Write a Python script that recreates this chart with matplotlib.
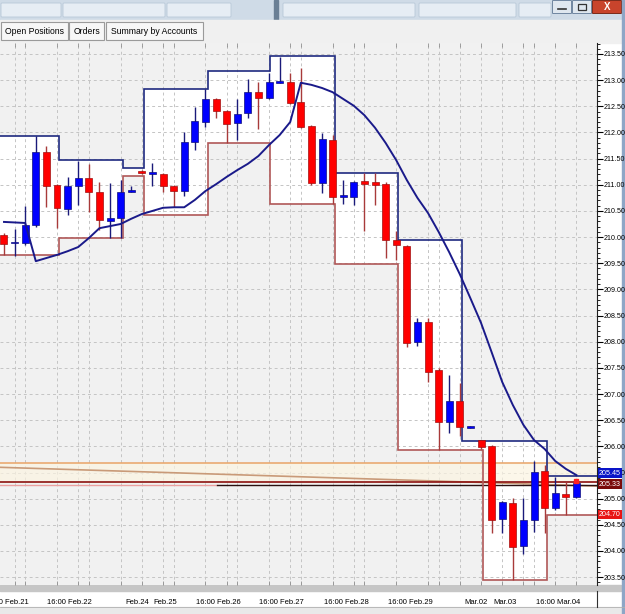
import numpy as np
import matplotlib.pyplot as plt
from matplotlib.patches import Rectangle, FancyBboxPatch
import matplotlib.transforms as mtransforms

plt.rcParams['font.family'] = ['Liberation Sans', 'DejaVu Sans']

# 4h candles (index 0..54)
opens = [210.04, 209.88, 209.89, 210.23, 211.63, 211.00, 210.54, 210.98, 211.13, 210.86,
         210.31, 210.36, 210.87, 211.26, 211.20, 211.21, 210.98, 210.88, 211.82, 212.20,
         212.64, 212.41, 212.18, 212.37, 212.77, 212.66, 212.95, 212.96, 212.58, 212.12,
         211.03, 211.86, 210.77, 210.77, 211.07, 211.05, 211.01, 209.94, 209.83, 207.99,
         208.38, 207.46, 206.46, 206.87, 206.36, 206.12, 206.00, 204.61, 204.91, 204.09,
         204.59, 205.53, 204.82, 205.09, 205.03]
closes = [209.87, 209.90, 210.23, 211.63, 210.98, 210.56, 210.98, 211.13, 210.86, 210.33,
          210.36, 210.86, 210.88, 211.23, 211.21, 210.98, 210.88, 211.82, 212.22, 212.64,
          212.41, 212.16, 212.35, 212.77, 212.66, 212.96, 212.96, 212.56, 212.10, 211.03,
          211.88, 210.77, 210.78, 211.05, 211.01, 210.99, 209.94, 209.85, 207.97, 208.38,
          207.42, 206.46, 206.87, 206.37, 206.37, 205.99, 204.59, 204.93, 204.07, 204.59,
          205.51, 204.82, 205.11, 205.03, 205.30]
highs = [210.08, 210.15, 210.59, 211.93, 211.74, 211.02, 211.15, 211.45, 211.40, 211.05,
         211.03, 211.09, 210.98, 211.28, 211.42, 211.22, 210.99, 212.01, 212.49, 212.83,
         212.65, 212.42, 212.64, 213.02, 212.96, 213.14, 213.44, 213.14, 213.23, 212.14,
         211.99, 211.95, 211.09, 211.07, 211.22, 211.22, 211.05, 210.12, 209.85, 208.45,
         208.45, 207.50, 207.36, 207.21, 206.38, 206.13, 206.02, 204.95, 205.01, 205.01,
         205.72, 205.64, 205.41, 205.32, 205.33]
lows = [209.66, 209.64, 209.85, 210.20, 210.57, 210.17, 210.42, 210.61, 210.48, 210.13,
        209.98, 209.98, 210.87, 211.20, 210.98, 210.86, 210.57, 210.78, 211.66, 212.10,
        212.28, 211.80, 211.86, 212.28, 212.07, 212.64, 212.94, 212.54, 212.08, 210.99,
        210.84, 210.63, 210.63, 210.61, 210.12, 210.61, 209.60, 209.56, 207.90, 207.92,
        207.23, 205.93, 206.25, 206.20, 206.35, 205.95, 204.34, 204.34, 203.44, 203.94,
        204.36, 204.34, 204.78, 204.69, 205.02]

# moving average
ma = [210.29, 210.28, 210.27, 209.54, 209.60, 209.66, 209.73, 209.81, 209.98, 210.17,
      210.21, 210.25, 210.35, 210.44, 210.50, 210.56, 210.57, 210.57, 210.71, 210.88,
      211.01, 211.15, 211.28, 211.40, 211.55, 211.76, 211.95, 212.20, 212.95, 212.91,
      212.85, 212.77, 212.64, 212.51, 212.33, 212.09, 211.80, 211.47, 211.09, 210.75,
      210.46, 210.10, 209.71, 209.29, 208.83, 208.36, 207.80, 207.23, 206.79, 206.41,
      206.12, 205.95, 205.72, 205.57, 205.45]

# day high / day low steps
hi_edges = [-0.4, 5.2, 11.2, 13.2, 19.2, 25.1, 31.2, 37.2, 43.2, 51.2, 56]
hi_levels = [211.93, 211.47, 211.32, 212.83, 213.17, 213.46, 211.22, 209.94, 206.10, 205.43]
lo_edges = [-0.4, 5.2, 11.2, 13.2, 19.2, 25.1, 31.2, 37.2, 45.2, 51.2, 56]
lo_levels = [209.66, 209.98, 211.17, 210.42, 211.80, 210.63, 209.48, 205.93, 203.44, 204.69]

# horizontal levels
orange_level = 205.68
trend_from, trend_to = 205.60, 205.24
bid_level = 205.31
dark_level = 205.26

# right axis price boxes
tag_text = ['205.45', '205.33', '204.70']
tag_level = [205.49, 205.28, 204.70]
tag_color = ['#0a14c8', '#7a0a0a', '#e81414']

xlab_pos = [0.2, 6.2, 12.6, 15.2, 20.2, 26.2, 32.3, 38.3, 44.5, 47.3, 52.3]
xlab_txt = ['16:00 Feb.21', '16:00 Feb.22', 'Feb.24', 'Feb.25', '16:00 Feb.26',
            '16:00 Feb.27', '16:00 Feb.28', '16:00 Feb.29', 'Mar.02', 'Mar.03',
            '16:00 Mar.04']
grid_pos = [1, 2, 5, 7, 8, 11, 13, 15, 16, 19, 21, 22, 25, 27, 28, 31, 33, 34,
            37, 40, 41, 43, 45, 47, 49, 50, 52, 54]

fig = plt.figure(figsize=(6.25, 6.14), dpi=100)

# window chrome
bg = fig.add_axes([0, 0, 1, 1], zorder=0)
bg.set_xlim(0, 625)
bg.set_ylim(614, 0)
bg.axis('off')
bg.add_patch(Rectangle((0, 0), 625, 20, color='#cfdbe7'))
for x0, w in [(2, 58), (64, 100), (168, 62), (284, 130), (420, 95), (520, 30)]:
    bg.add_patch(FancyBboxPatch((x0, 4), w, 12, boxstyle='round,pad=1',
                                fc='#e6edf4', ec='#b8c8d8', lw=0.6))
bg.add_patch(Rectangle((274, 0), 4, 20, color='#6a7f95'))
bg.add_patch(Rectangle((0, 20), 625, 23, color='#f0f0f0'))
for (x0, w), t in zip([(1, 67), (69, 35), (106, 97)],
                      ['Open Positions', 'Orders', 'Summary by Accounts']):
    bg.add_patch(Rectangle((x0, 22), w, 18, fc='#f7f7f7', ec='#9a9a9a', lw=0.8))
    bg.text(x0 + w / 2, 31.5, t, ha='center', va='center', fontsize=6.2)
bg.add_patch(FancyBboxPatch((553, 1), 18, 12, boxstyle='round,pad=0.5',
                            fc='#dfe7ef', ec='#6f86a0', lw=0.7))
bg.plot([558, 566], [9, 9], color='#333', lw=1.2)
bg.add_patch(FancyBboxPatch((573, 1), 18, 12, boxstyle='round,pad=0.5',
                            fc='#dfe7ef', ec='#6f86a0', lw=0.7))
bg.add_patch(Rectangle((578, 4), 8, 6, fc='none', ec='#333', lw=0.9))
bg.add_patch(FancyBboxPatch((593, 1), 28, 12, boxstyle='round,pad=0.5',
                            fc='#c8442c', ec='#7a2a1a', lw=0.7))
bg.text(607, 7.5, 'X', color='white', ha='center', va='center', fontsize=7, weight='bold')
bg.add_patch(Rectangle((0, 585), 621, 6, color='#c6c6c6'))
bg.add_patch(Rectangle((0, 607), 625, 7, color='#e9e9e9'))
bg.plot([0, 625], [607, 607], color='#b0b0b0', lw=0.6)
bg.plot([597, 597], [591, 607], color='#303030', lw=0.8)
bg.add_patch(Rectangle((622, 0), 3, 614, color='#8ea6c6'))

# chart
ax = fig.add_axes([0, 29 / 614, 597 / 625, 542 / 614], zorder=1)
ax.set_facecolor('#f1f1f1')
ax.set_xlim(-0.377, 55.94)
ax.set_ylim(203.35, 213.71)

# white fill inside the daily high/low boxes
edges = np.unique(np.concatenate([hi_edges, lo_edges]))
mids = (edges[:-1] + edges[1:]) / 2
top = np.array(hi_levels)[np.searchsorted(hi_edges, mids) - 1]
bot = np.array(lo_levels)[np.searchsorted(lo_edges, mids) - 1]
ax.bar(edges[:-1], top - bot, bottom=bot, width=np.diff(edges), align='edge',
       color='white', zorder=0.5)

ax.grid(axis='y', which='major', color='#c4c4c4', ls=(0, (3, 3)), lw=0.7)
ax.grid(axis='x', which='minor', color='#c4c4c4', ls=(0, (3, 3)), lw=0.7)
ax.set_axisbelow(True)

ax.stairs(hi_levels, hi_edges, baseline=None, color='#1f2a80', lw=1.2, zorder=3)
ax.stairs(lo_levels, lo_edges, baseline=None, color='#b05858', lw=1.2, zorder=3)

# level lines
ax.axhspan(bid_level, orange_level, color='#fbf4e2', alpha=0.7, zorder=0.8)
ax.axhline(orange_level, color='#e9a468', lw=1.1, zorder=2)
ax.plot([-0.4, 56], [trend_from, trend_to], color='#c99a78', lw=1.2, zorder=2)
ax.axhline(bid_level, color='#8b1010', lw=1.2, zorder=2)
ax.plot([-0.4, 20.1], [dark_level, dark_level], color='#eba0a0', lw=1.0, zorder=2)
ax.plot([20.1, 56], [dark_level, dark_level], color='#2a1010', lw=1.0, zorder=2)

# candles
o = np.array(opens)
c = np.array(closes)
h = np.array(highs)
l = np.array(lows)
idx = np.arange(len(o))
up = c >= o
body_lo = np.minimum(o, c)
body_h = np.maximum(np.abs(c - o), 0.035)
ax.vlines(idx[up], l[up], h[up], color='#1a1a7a', lw=1.0, zorder=4)
ax.vlines(idx[~up], l[~up], h[~up], color='#a83a3a', lw=1.0, zorder=4)
ax.bar(idx[up], body_h[up], bottom=body_lo[up], width=0.66, color='#0000ff',
       edgecolor='#10107a', lw=0.5, zorder=5)
ax.bar(idx[~up], body_h[~up], bottom=body_lo[~up], width=0.66, color='#ff0000',
       edgecolor='#a01010', lw=0.5, zorder=5)
ax.plot(idx[-1:], h[-1:], 's', ms=2.5, color='#ff2020', zorder=6)

ax.plot(idx, ma, color='#1a1a8a', lw=1.4, zorder=6)

# axes styling
for s in ['left', 'top', 'bottom']:
    ax.spines[s].set_visible(False)
ax.spines['right'].set_color('#202020')
ax.yaxis.tick_right()
ax.set_yticks(np.arange(203.5, 213.51, 0.5))
ax.set_yticks(np.arange(203.4, 213.71, 0.1), minor=True)
ax.yaxis.set_major_formatter(plt.FormatStrFormatter('%.2f'))
ax.tick_params(axis='y', which='major', length=4, width=0.8, pad=0.5, labelsize=5.1)
ax.tick_params(axis='y', which='minor', length=2, width=0.6)
ax.set_xticks(xlab_pos, xlab_txt)
ax.set_xticks(grid_pos, minor=True)
ax.tick_params(axis='x', which='major', length=0, pad=10, labelsize=5.5)
ax.tick_params(axis='x', which='minor', length=3, width=0.6, color='#909090',
               top=True, bottom=True, direction='in')

tr = mtransforms.blended_transform_factory(ax.transAxes, ax.transData)
for t, y, col in zip(tag_text, tag_level, tag_color):
    ax.text(1.003, y, t, transform=tr, color='white', fontsize=5.1, va='center',
            ha='left', clip_on=False, zorder=20,
            bbox=dict(boxstyle='square,pad=0.15', fc=col, ec='none'))

fig.savefig('out.png', dpi=100)
